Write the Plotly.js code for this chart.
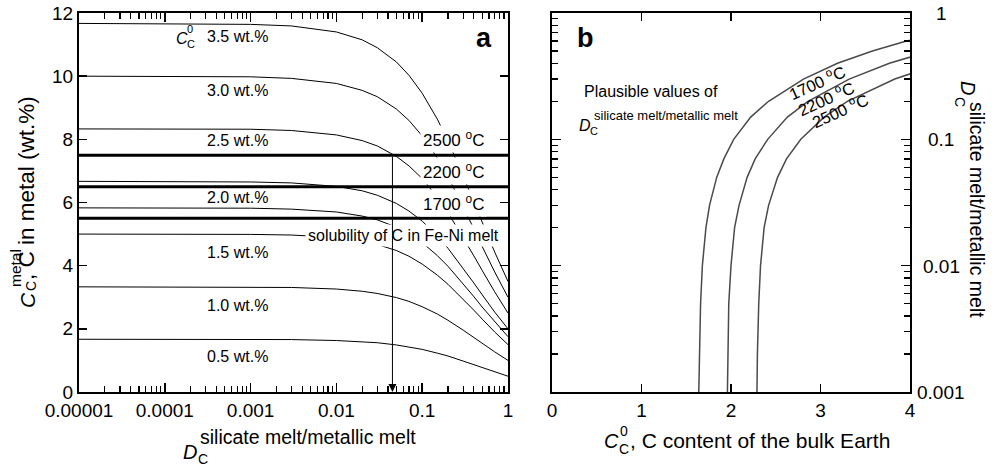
<!DOCTYPE html>
<html>
<head>
<meta charset="utf-8">
<script src="https://cdn.plot.ly/plotly-3.0.1.min.js"></script>
<style>html,body{margin:0;padding:0;background:#fff;}#chart{width:993px;height:468px;}</style>
</head>
<body>
<div id="chart"></div>
<script>
// ---------- Panel a data ----------
// D_C (silicate melt / metallic melt) sampling points
const dPartition = [0.00001, 0.0001, 0.001, 0.003, 0.01, 0.02, 0.03, 0.05, 0.07, 0.1, 0.15, 0.2, 0.3, 0.4, 0.5, 0.7, 1];
// C in metal (wt.%) for each bulk-Earth C content
const cMetal_3p5  = [11.67, 11.66, 11.64, 11.59, 11.40, 11.15, 10.90, 10.45, 10.03, 9.46, 8.64, 7.95, 6.86, 6.03, 5.38, 4.43, 3.50];
const cMetal_3p0  = [10.00, 10.00, 9.98, 9.93, 9.77, 9.55, 9.35, 8.96, 8.60, 8.11, 7.41, 6.82, 5.88, 5.17, 4.61, 3.80, 3.00];
const cMetal_2p5  = [8.33, 8.33, 8.32, 8.28, 8.14, 7.96, 7.79, 7.46, 7.16, 6.76, 6.17, 5.68, 4.90, 4.31, 3.85, 3.17, 2.50];
const cMetal_2p0  = [6.67, 6.66, 6.65, 6.62, 6.51, 6.37, 6.23, 5.97, 5.73, 5.41, 4.94, 4.55, 3.92, 3.45, 3.08, 2.53, 2.00];
const cMetal_1p75 = [5.83, 5.83, 5.82, 5.79, 5.70, 5.57, 5.45, 5.22, 5.01, 4.73, 4.32, 3.98, 3.43, 3.02, 2.69, 2.22, 1.75];
const cMetal_1p5  = [5.00, 5.00, 4.99, 4.97, 4.89, 4.78, 4.67, 4.48, 4.30, 4.05, 3.70, 3.41, 2.94, 2.59, 2.31, 1.90, 1.50];
const cMetal_1p0  = [3.33, 3.33, 3.33, 3.31, 3.26, 3.19, 3.12, 2.99, 2.87, 2.70, 2.47, 2.27, 1.96, 1.72, 1.54, 1.27, 1.00];
const cMetal_0p5  = [1.67, 1.67, 1.66, 1.66, 1.63, 1.59, 1.56, 1.49, 1.43, 1.35, 1.23, 1.14, 0.98, 0.86, 0.77, 0.63, 0.50];
const bulkLabels = ['3.5 wt.%', '3.0 wt.%', '2.5 wt.%', '2.0 wt.%', '1.5 wt.%', '1.0 wt.%', '0.5 wt.%'];
// solubility of C in Fe-Ni melt (wt.%) at each temperature
const solTemps = ['2500', '2200', '1700'];
const solubility = [7.5, 6.5, 5.5];
const arrowD = 0.045;
// x-axis ticks panel a
const tickA = [0.00001, 0.0001, 0.001, 0.01, 0.1, 1];
const tickAText = ['0.00001', '0.0001', '0.001', '0.01', '0.1', '1'];

// ---------- Panel b data ----------
const dPlausible = [0.001, 0.002, 0.005, 0.01, 0.02, 0.03, 0.05, 0.07, 0.1, 0.15, 0.2, 0.3, 0.4, 0.5, 0.6, 0.7];
const c0_1700 = [1.64, 1.645, 1.66, 1.68, 1.72, 1.76, 1.84, 1.92, 2.03, 2.22, 2.42, 2.81, 3.19, 3.58, 3.96, 4.35];
const c0_2200 = [1.96, 1.965, 1.975, 2.00, 2.04, 2.09, 2.18, 2.27, 2.41, 2.63, 2.86, 3.32, 3.77, 4.23, 4.68, 5.14];
const c0_2500 = [2.29, 2.295, 2.31, 2.33, 2.37, 2.42, 2.52, 2.62, 2.78, 3.04, 3.30, 3.83, 4.35, 4.88, 5.40, 5.93];
const tickB = [0.001, 0.01, 0.1, 1];
const tickBText = ['0.001', '0.01', '0.1', '1'];

// ---------- helpers ----------
const W = 993, H = 468;
const FONT = 'Liberation Sans, Arial, Helvetica, sans-serif';
const px = x => x / W;
const py = y => 1 - y / H;
function ann(text, x, y, size, extra) {
  return Object.assign({xref: 'paper', yref: 'paper', x: px(x), y: py(y), text: text, showarrow: false,
    font: {family: FONT, size: size, color: 'black'}, xanchor: 'center', yanchor: 'middle'}, extra || {});
}
function minorTicks(e0, e1) {
  const v = [];
  for (let e = e0; e < e1; e++) for (let m = 2; m <= 9; m++) v.push(m * Math.pow(10, e));
  return v;
}

// ---------- traces ----------
const traces = [];
const curvesA = [cMetal_3p5, cMetal_3p0, cMetal_2p5, cMetal_2p0, cMetal_1p75, cMetal_1p5, cMetal_1p0, cMetal_0p5];
curvesA.forEach(c => traces.push({x: dPartition, y: c, xaxis: 'x', yaxis: 'y', mode: 'lines',
  line: {color: 'black', width: 1}, hoverinfo: 'skip'}));
solubility.forEach(s => traces.push({x: [tickA[0], tickA[tickA.length - 1]], y: [s, s], xaxis: 'x', yaxis: 'y',
  mode: 'lines', line: {color: 'black', width: 3}, hoverinfo: 'skip'}));
[c0_1700, c0_2200, c0_2500].forEach(c => traces.push({x: c, y: dPlausible, xaxis: 'x2', yaxis: 'y2', mode: 'lines',
  line: {color: '#4a4a4a', width: 1.5}, hoverinfo: 'skip'}));

// ---------- annotations ----------
const annotations = [];
// panel a bulk C labels
const bulkY = [37, 91, 140, 197, 252, 305, 356];
bulkLabels.forEach((t, i) => annotations.push(ann(t, 237, bulkY[i], 16)));
annotations.push(ann('<i>C</i>', 182, 38, 16));
annotations.push(ann('0', 190, 29, 11));
annotations.push(ann('C', 191, 44, 11));
// temperature labels (white boxes mask curves)
const tempY = [139, 171, 203];
solTemps.forEach((t, i) => annotations.push(ann(t + ' <sup>o</sup>C', 453, tempY[i], 17,
  {bgcolor: 'white', borderpad: 2})));
annotations.push(ann('solubility of C in Fe-Ni melt', 403, 235, 16, {bgcolor: 'white', borderpad: 2}));
annotations.push(ann('<b>a</b>', 484, 38, 27));
// arrow at plausible D
annotations.push({xref: 'x', yref: 'y', axref: 'x', ayref: 'y', x: Math.log10(arrowD), y: 0,
  ax: Math.log10(arrowD), ay: solubility[0], text: '', showarrow: true, arrowhead: 2, arrowsize: 1.6,
  arrowwidth: 1, arrowcolor: 'black', standoff: 0, startstandoff: 0});
// panel a axis titles
annotations.push(ann('<i>D</i>', 190, 452, 20));
annotations.push(ann('C', 203, 459, 14));
annotations.push(ann('silicate melt/metallic melt', 198, 437, 19.5, {xanchor: 'left'}));
annotations.push(ann('<i>C</i>', 27, 300, 21, {textangle: -90}));
annotations.push(ann('C', 31, 286, 14, {textangle: -90}));
annotations.push(ann('metal', 15, 268, 15.5, {textangle: -90}));
annotations.push(ann(', C in metal (wt.%)', 26, 282, 22.5, {textangle: -90, yanchor: 'bottom'}));
// panel b
annotations.push(ann('<b>b</b>', 585, 38, 27));
annotations.push(ann('Plausible values of', 582, 92, 16, {xanchor: 'left'}));
annotations.push(ann('<i>D</i>', 585, 126, 16));
annotations.push(ann('C', 594, 131, 11));
annotations.push(ann('silicate melt/metallic melt', 592, 115, 13, {xanchor: 'left'}));
const tempBxy = [[817, 82], [826, 98], [840, 110]];
['1700', '2200', '2500'].forEach((t, i) => annotations.push(ann(t + ' <sup>o</sup>C', tempBxy[i][0], tempBxy[i][1], 16.5,
  {textangle: -24})));
// panel b y tick labels (right side)
const tickBY = [392, 266, 139, 13];
tickBText.forEach((t, i) => annotations.push(ann(t, 941, tickBY[i], 19)));
// panel b axis titles
annotations.push(ann('<i>C</i>', 611, 441, 20));
annotations.push(ann('0', 624, 431, 14));
annotations.push(ann('C', 624, 449, 14));
annotations.push(ann(', C content of the bulk Earth', 628, 440, 21, {xanchor: 'left'}));
annotations.push(ann('<i>D</i>', 968, 88, 20, {textangle: 90}));
annotations.push(ann('C', 960, 102, 14, {textangle: 90}));
annotations.push(ann('silicate melt/metallic melt', 977, 100, 19.5, {textangle: 90, yanchor: 'top'}));

// ---------- axes ----------
const axBase = {showline: true, linewidth: 2, linecolor: 'black', mirror: 'ticks', ticks: 'inside',
  tickcolor: 'black', tickwidth: 1.5, showgrid: false, zeroline: false, tickfont: {family: FONT, size: 19, color: 'black'}};
const yDomain = [py(392), py(13)];
const layout = {
  width: W, height: H, margin: {l: 0, r: 0, t: 0, b: 0},
  paper_bgcolor: 'white', plot_bgcolor: 'white', showlegend: false,
  font: {family: FONT, color: 'black', size: 18},
  xaxis: Object.assign({}, axBase, {type: 'log', range: [-5, 0], domain: [px(79), px(508)], anchor: 'y',
    tickmode: 'array', tickvals: tickA, ticktext: tickAText, ticklen: 9,
    minor: {tickmode: 'array', tickvals: minorTicks(-5, 0), ticks: 'inside', ticklen: 6, tickwidth: 1.2, tickcolor: 'black', showgrid: false}}),
  yaxis: Object.assign({}, axBase, {range: [0, 12], domain: yDomain, anchor: 'x', dtick: 2, tick0: 0, ticklen: 8}),
  xaxis2: Object.assign({}, axBase, {range: [0, 4], domain: [px(552), px(910)], anchor: 'y2', dtick: 1, tick0: 0, ticklen: 8}),
  yaxis2: Object.assign({}, axBase, {type: 'log', range: [-3, 0], domain: yDomain, anchor: 'x2', side: 'right',
    tickmode: 'array', tickvals: tickB, ticktext: tickBText, showticklabels: false, ticklen: 9,
    minor: {tickmode: 'array', tickvals: minorTicks(-3, 0), ticks: 'inside', ticklen: 6, tickwidth: 1.2, tickcolor: 'black', showgrid: false}}),
  annotations: annotations
};
Plotly.newPlot('chart', traces, layout, {staticPlot: true, displayModeBar: false});
</script>
</body>
</html>
